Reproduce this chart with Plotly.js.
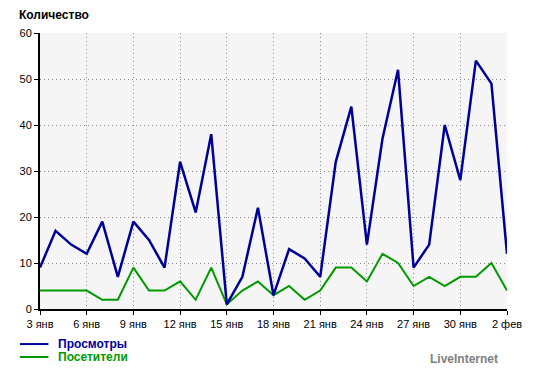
<!DOCTYPE html>
<html><head><meta charset="utf-8">
<script src="https://cdn.plot.ly/plotly-3.0.1.min.js"></script>
<style>html,body{margin:0;padding:0;background:#fff}#c{width:549px;height:382px}</style>
</head><body><div id="c"></div>
<script>
const days = ["3 янв","4 янв","5 янв","6 янв","7 янв","8 янв","9 янв","10 янв","11 янв","12 янв","13 янв","14 янв","15 янв","16 янв","17 янв","18 янв","19 янв","20 янв","21 янв","22 янв","23 янв","24 янв","25 янв","26 янв","27 янв","28 янв","29 янв","30 янв","31 янв","1 фев","2 фев"];
const views    = [9,17,14,12,19,7,19,15,9,32,21,38,1,7,22,3,13,11,7,32,44,14,37,52,9,14,40,28,54,49,12];
const visitors = [4,4,4,4,2,2,9,4,4,6,2,9,1,4,6,3,5,2,4,9,9,6,12,10,5,7,5,7,7,10,4];
const seriesNames = ["Просмотры","Посетители"];
const seriesColors = ["#000099","#009900"];
const yTicks = [0,10,20,30,40,50,60];

const idx = days.map((d,i)=>i);
const tickIdx = idx.filter(i=>i%3===0);
const font = "Liberation Sans, Arial, sans-serif";

const traces = [
  {x: idx, y: visitors, type:"scatter", mode:"lines", name: seriesNames[1], line:{color:seriesColors[1], width:2}},
  {x: idx, y: views, type:"scatter", mode:"lines", name: seriesNames[0], line:{color:seriesColors[0], width:2.5}}
];

const gridStyle = {showgrid:true, gridcolor:"#8a8a8a", griddash:"1px,3px", gridwidth:1};

const layout = {
  width:549, height:382,
  margin:{l:40, r:42, t:33, b:73},
  paper_bgcolor:"#ffffff", plot_bgcolor:"#f5f5f5",
  showlegend:false,
  font:{family:font, size:11, color:"#000"},
  xaxis:Object.assign({
    range:[0, days.length-1], tickmode:"array",
    tickvals: tickIdx, ticktext: tickIdx.map(i=>days[i]),
    showline:true, linecolor:"#000", linewidth:2,
    ticks:"outside", ticklen:4, tickcolor:"#000", tickwidth:1,
    zeroline:false, tickfont:{family:font, size:11, color:"#000"}
  }, gridStyle),
  yaxis:Object.assign({
    range:[0,60], tickmode:"array", tickvals:yTicks,
    showline:true, linecolor:"#000", linewidth:2,
    ticks:"outside", ticklen:4, tickcolor:"#000", tickwidth:1,
    zeroline:false, tickfont:{family:font, size:11, color:"#000"}
  }, gridStyle),
  shapes:[
    {type:"line", xref:"paper", yref:"paper", x0:-0.043, x1:0.018, y0:-0.127, y1:-0.127, line:{color:seriesColors[0], width:2}},
    {type:"line", xref:"paper", yref:"paper", x0:-0.043, x1:0.018, y0:-0.174, y1:-0.174, line:{color:seriesColors[1], width:2}}
  ],
  annotations:[
    {text:"<b>Количество</b>", xref:"paper", yref:"paper", x:-0.049, y:1.065, xanchor:"left", yanchor:"middle", showarrow:false, font:{family:font, size:12, color:"#000"}},
    {text:"<b>"+seriesNames[0]+"</b>", xref:"paper", yref:"paper", x:0.035, y:-0.127, xanchor:"left", yanchor:"middle", showarrow:false, font:{family:font, size:12, color:seriesColors[0]}},
    {text:"<b>"+seriesNames[1]+"</b>", xref:"paper", yref:"paper", x:0.035, y:-0.174, xanchor:"left", yanchor:"middle", showarrow:false, font:{family:font, size:12, color:seriesColors[1]}},
    {text:"<b>LiveInternet</b>", xref:"paper", yref:"paper", x:0.986, y:-0.18, xanchor:"right", yanchor:"middle", showarrow:false, font:{family:font, size:12, color:"#808080"}}
  ]
};
Plotly.newPlot("c", traces, layout, {staticPlot:true, displayModeBar:false});
</script></body></html>
